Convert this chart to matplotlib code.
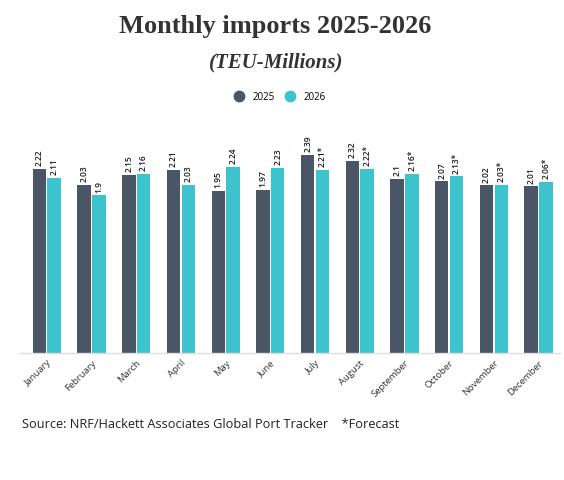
import matplotlib
matplotlib.use("Agg")
import matplotlib.pyplot as plt
import numpy as np
from matplotlib.lines import Line2D

months = ["January", "February", "March", "April", "May", "June", "July",
          "August", "September", "October", "November", "December"]
imports_2025 = [2.22, 2.03, 2.15, 2.21, 1.95, 1.97, 2.39, 2.32, 2.10, 2.07, 2.02, 2.01]
imports_2026 = [2.11, 1.90, 2.16, 2.03, 2.24, 2.23, 2.21, 2.22, 2.16, 2.13, 2.03, 2.06]
labels_2025 = ["2.22", "2.03", "2.15", "2.21", "1.95", "1.97", "2.39", "2.32", "2.1", "2.07", "2.02", "2.01"]
labels_2026 = ["2.11", "1.9", "2.16", "2.03", "2.24", "2.23", "2.21*", "2.22*", "2.16*", "2.13*", "2.03*", "2.06*"]
series_names = ["2025", "2026"]

c_dark = "#4a5565"
c_teal = "#3cc3cd"
sans = "Open Sans"
serif = "Liberation Serif"

fig = plt.figure(figsize=(5.64, 4.8), dpi=100)
ax = fig.add_axes([20/564, 1-353/480, 540/564, 243/480])

x = np.arange(len(months))
w = 0.30
gap = 0.015
b1 = ax.bar(x - w/2 - gap, imports_2025, w, color=c_dark)
b2 = ax.bar(x + w/2 + gap, imports_2026, w, color=c_teal)

for bars, labs in ((b1, labels_2025), (b2, labels_2026)):
    for b, lab in zip(bars, labs):
        ax.annotate(lab, (b.get_x() + b.get_width()/2, b.get_height()),
                    xytext=(0, 2), textcoords="offset points",
                    rotation=90, ha="center", va="bottom",
                    fontsize=6.0, fontweight="semibold", color="#1a1a1a", family=sans)

ax.set_xlim(-0.6, 11.48)
ax.set_ylim(0, 2.93)
ax.set_yticks([])
ax.set_xticks(x)
ax.set_xticklabels(months, rotation=45, ha="right", rotation_mode="anchor",
                   fontsize=6.8, color="#333333", family=sans)
ax.tick_params(axis="x", length=0, pad=4)
for s in ["top", "right", "left"]:
    ax.spines[s].set_visible(False)
ax.spines["bottom"].set_color("#dddddd")
ax.spines["bottom"].set_linewidth(1.0)

fig.text(275/564, 1-26/480, "Monthly imports 2025-2026", ha="center", va="center",
         fontsize=19, fontweight="bold", family=serif, color="#333333")
fig.text(276/564, 1-62/480, "(TEU-Millions)", ha="center", va="center",
         fontsize=15, fontweight="bold", style="italic", family=serif, color="#333333")

handles = [Line2D([], [], marker="o", linestyle="", markersize=7.5, color=c)
           for c in (c_dark, c_teal)]
fig.legend(handles, series_names, loc="center", bbox_to_anchor=(280/564, 1-97/480),
           ncol=2, frameon=False, handletextpad=0.9, columnspacing=1.0,
           handlelength=1.0, prop={"family": sans, "size": 7})

fig.text(22/564, 1-425/480, "Source: NRF/Hackett Associates Global Port Tracker    *Forecast",
         ha="left", va="center", fontsize=9.2, family=sans, color="#222222")

fig.savefig("out.png", dpi=100, facecolor="white")
